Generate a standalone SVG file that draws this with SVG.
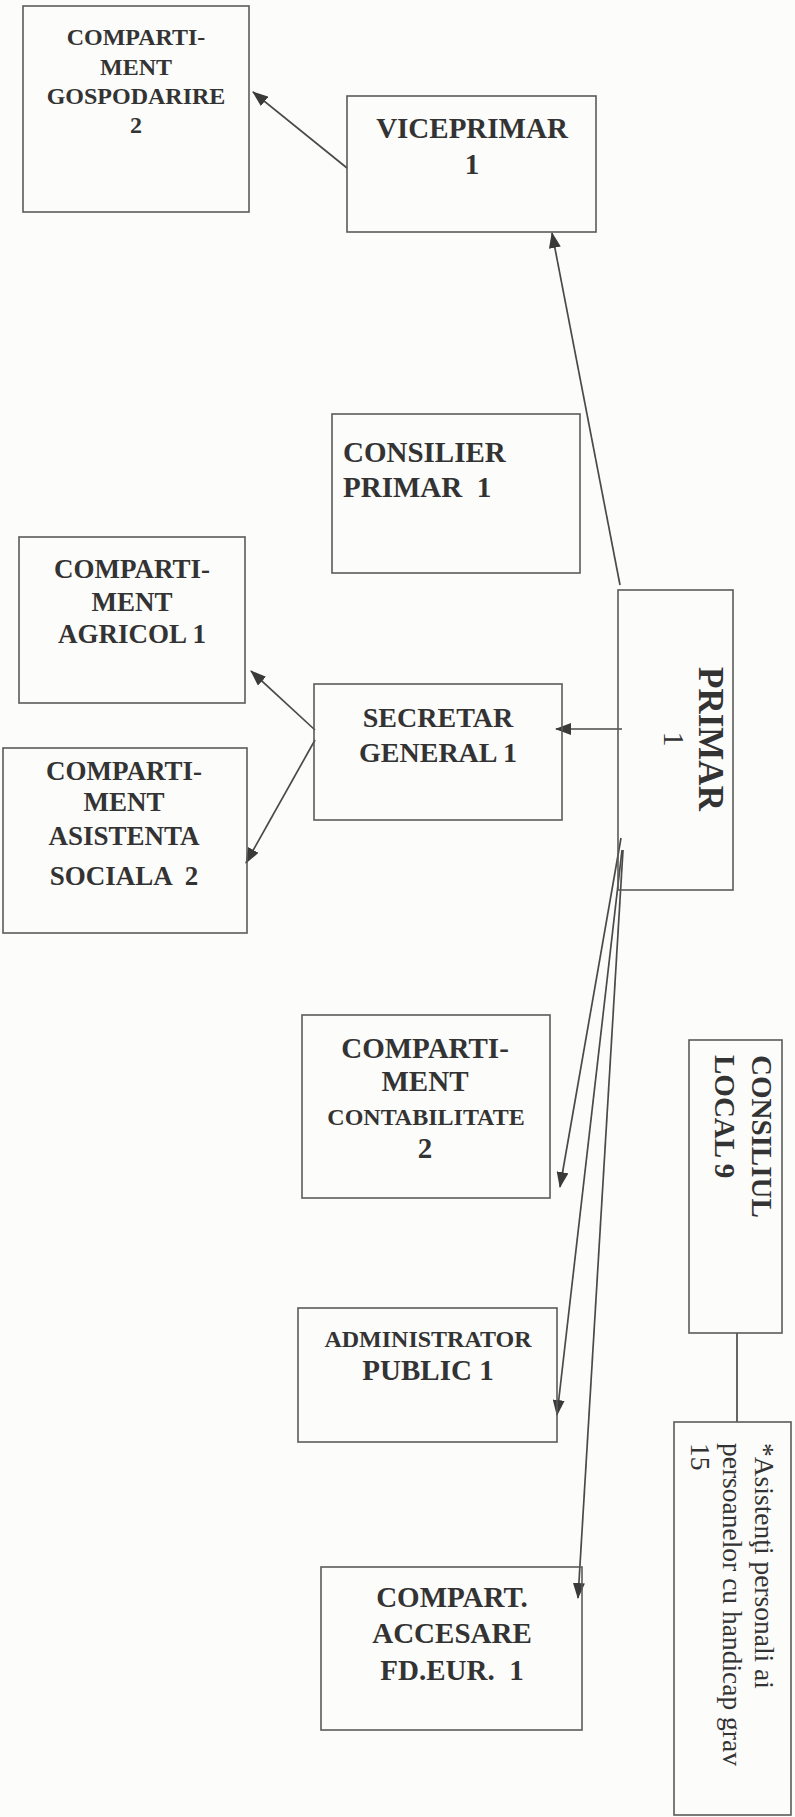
<svg xmlns="http://www.w3.org/2000/svg" width="795" height="1817" viewBox="0 0 795 1817">
<defs>
<style>
.box{fill:none;stroke:#5a5a5a;stroke-width:1.6}
.t{font-family:"Liberation Serif","Times New Roman",serif;font-weight:bold;fill:#333;white-space:pre}
.r{font-family:"Liberation Serif","Times New Roman",serif;font-weight:normal;fill:#333;white-space:pre}
.c{text-anchor:middle}
.ln{fill:none;stroke:#4a4a4a;stroke-width:1.7}
</style>
<marker id="ah" markerWidth="16" markerHeight="12" refX="15" refY="6" orient="auto" markerUnits="userSpaceOnUse">
<path d="M0,0 L16,6 L0,12 z" fill="#3a3a3a"/>
</marker>
</defs>
<rect x="0" y="0" width="795" height="1817" fill="#fcfcfa"/>

<g id="connectors">
<line class="ln" x1="347" y1="168" x2="253" y2="92" marker-end="url(#ah)"/>
<line class="ln" x1="620" y1="585" x2="552" y2="233" marker-end="url(#ah)"/>
<line class="ln" x1="622" y1="729" x2="556" y2="729" marker-end="url(#ah)"/>
<line class="ln" x1="315" y1="730" x2="251" y2="671" marker-end="url(#ah)"/>
<line class="ln" x1="315" y1="740" x2="246" y2="863" marker-end="url(#ah)"/>
<line class="ln" x1="621" y1="838" x2="560" y2="1187" marker-end="url(#ah)"/>
<line class="ln" x1="622" y1="850" x2="557" y2="1415" marker-end="url(#ah)"/>
<line class="ln" x1="623" y1="850" x2="578" y2="1598" marker-end="url(#ah)"/>
<line class="ln" x1="737" y1="1333" x2="737" y2="1422"/>
</g>

<g id="gospodarire">
<rect class="box" x="23" y="6" width="226" height="206"/>
<text class="t c" font-size="24" x="136" y="45">COMPARTI-</text>
<text class="t c" font-size="24" x="136" y="75">MENT</text>
<text class="t c" font-size="24" x="136" y="104">GOSPODARIRE</text>
<text class="t c" font-size="24" x="136" y="133">2</text>
</g>

<g id="viceprimar">
<rect class="box" x="347" y="96" width="249" height="136"/>
<text class="t c" font-size="29" x="472" y="138">VICEPRIMAR</text>
<text class="t c" font-size="29" x="472" y="174">1</text>
</g>

<g id="consilier">
<rect class="box" x="332" y="414" width="248" height="159"/>
<text class="t" font-size="29" x="343" y="462">CONSILIER</text>
<text class="t" font-size="29" x="343" y="497">PRIMAR  1</text>
</g>

<g id="agricol">
<rect class="box" x="19" y="537" width="226" height="166"/>
<text class="t c" font-size="27" x="132" y="578">COMPARTI-</text>
<text class="t c" font-size="27" x="132" y="611">MENT</text>
<text class="t c" font-size="27" x="132" y="643">AGRICOL 1</text>
</g>

<g id="asistenta">
<rect class="box" x="3" y="748" width="244" height="185"/>
<text class="t c" font-size="27" x="124" y="780">COMPARTI-</text>
<text class="t c" font-size="27" x="124" y="811">MENT</text>
<text class="t c" font-size="27" x="124" y="845">ASISTENTA</text>
<text class="t c" font-size="27" x="124" y="885">SOCIALA  2</text>
</g>

<g id="secretar">
<rect class="box" x="314" y="684" width="248" height="136"/>
<text class="t c" font-size="28" x="438" y="727">SECRETAR</text>
<text class="t c" font-size="28" x="438" y="762">GENERAL 1</text>
</g>

<g id="primar">
<rect class="box" x="618" y="590" width="115" height="300"/>
<text class="t c" font-size="35" transform="translate(699,739) rotate(90)">PRIMAR</text>
<text class="r c" font-size="30" transform="translate(664,739) rotate(90)">1</text>
</g>

<g id="contabilitate">
<rect class="box" x="302" y="1015" width="248" height="183"/>
<text class="t c" font-size="29" x="425" y="1058">COMPARTI-</text>
<text class="t c" font-size="29" x="425" y="1091">MENT</text>
<text class="t c" font-size="24" x="426" y="1125">CONTABILITATE</text>
<text class="t c" font-size="29" x="425" y="1158">2</text>
</g>

<g id="consiliul">
<rect class="box" x="689" y="1040" width="93" height="293"/>
<g transform="translate(752,1055) rotate(90)">
<text class="t" font-size="29" x="0" y="0">CONSILIUL</text>
<text class="t" font-size="29" x="0" y="37">LOCAL 9</text>
</g>
</g>

<g id="administrator">
<rect class="box" x="298" y="1308" width="259" height="134"/>
<text class="t c" font-size="24" x="428" y="1347">ADMINISTRATOR</text>
<text class="t c" font-size="29" x="428" y="1380">PUBLIC 1</text>
</g>

<g id="asistenti">
<rect class="box" x="674" y="1422" width="117" height="393"/>
<g transform="translate(755,1443) rotate(90)">
<text class="r" font-size="27.5" x="0" y="0">*Asistenţi personali ai</text>
<text class="r" font-size="27.5" x="0" y="32">persoanelor cu handicap grav</text>
<text class="r" font-size="27.5" x="0" y="64">15</text>
</g>
</g>

<g id="accesare">
<rect class="box" x="321" y="1567" width="261" height="163"/>
<text class="t c" font-size="29" x="452" y="1607">COMPART.</text>
<text class="t c" font-size="29" x="452" y="1643">ACCESARE</text>
<text class="t c" font-size="29" x="452" y="1680">FD.EUR.  1</text>
</g>
</svg>
